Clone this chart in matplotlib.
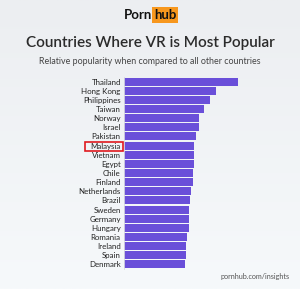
import matplotlib
matplotlib.use("Agg")
import matplotlib.pyplot as plt
from matplotlib.patches import Rectangle
import numpy as np

countries = ["Thailand", "Hong Kong", "Philippines", "Taiwan", "Norway", "Israel",
             "Pakistan", "Malaysia", "Vietnam", "Egypt", "Chile", "Finland",
             "Netherlands", "Brazil", "Sweden", "Germany", "Hungary", "Romania",
             "Ireland", "Spain", "Denmark"]
popularity = [114, 92, 86.5, 80, 75, 75.3, 72.5, 70, 70, 70, 69, 69,
              67, 66, 65, 65, 65, 63.5, 62.5, 62.5, 61]
highlight = "Malaysia"

W, H = 300, 289
fig = plt.figure(figsize=(W / 100, H / 100), dpi=100)
fig.patch.set_facecolor("#f3f6f9")

# subtle background gradient
bg = fig.add_axes([0, 0, 1, 1], zorder=-10)
grad = np.linspace(0, 1, 256).reshape(-1, 1)
bg.imshow(grad, aspect="auto", cmap=matplotlib.colors.LinearSegmentedColormap.from_list(
    "g", ["#f6f9fb", "#eceef1"]), extent=[0, 1, 0, 1], origin="lower")
bg.axis("off")

font = ["Lato", "DejaVu Sans"]

ax = fig.add_axes([123.5 / W, 20 / H, 114 / W, 192 / H])
ax.patch.set_alpha(0)
y = np.arange(len(countries))
ax.barh(y, popularity, height=0.86, color="#6a4fd9", edgecolor="none")
ax.set_xlim(0, 114)
ax.set_ylim(len(countries) - 0.5, -0.5)
ax.set_yticks(y)
ax.set_yticklabels(countries, fontsize=5.7, color="#222222", family=font)
ax.tick_params(axis="y", length=0, pad=2)
ax.set_xticks([])
for s in ["top", "right", "bottom"]:
    ax.spines[s].set_visible(False)
ax.spines["left"].set_color("#d8dbe0")
ax.spines["left"].set_linewidth(0.6)

# highlight box around Malaysia
idx = countries.index(highlight)
fig.patches.append(Rectangle((85 / W, 1 - 151 / H), 37.5 / W, 8.7 / H,
                             transform=fig.transFigure, fill=False,
                             edgecolor="#e0191f", linewidth=1.2))

# logo
fig.text(152 / W, 1 - 15 / H, "Porn", ha="right", va="center", fontsize=9.5,
         fontweight="bold", color="#111111", family=font)
fig.text(154 / W, 1 - 15 / H, "hub", ha="left", va="center", fontsize=9.5,
         fontweight="bold", color="#111111", family=font,
         bbox=dict(boxstyle="square,pad=0.12", facecolor="#f7971d", edgecolor="none"))

fig.text(0.5, 1 - 43 / H, "Countries Where VR is Most Popular", ha="center", va="center",
         fontsize=11.0, color="#2b2b2b", family=font, fontweight="semibold")
fig.text(0.5, 1 - 61 / H, "Relative popularity when compared to all other countries",
         ha="center", va="center", fontsize=6.4, color="#444444", family=font)
fig.text(290 / W, 1 - 277 / H, "pornhub.com/insights", ha="right", va="center",
         fontsize=5.2, color="#555555", family=font)

fig.savefig("out.png", dpi=100, facecolor=fig.get_facecolor())
